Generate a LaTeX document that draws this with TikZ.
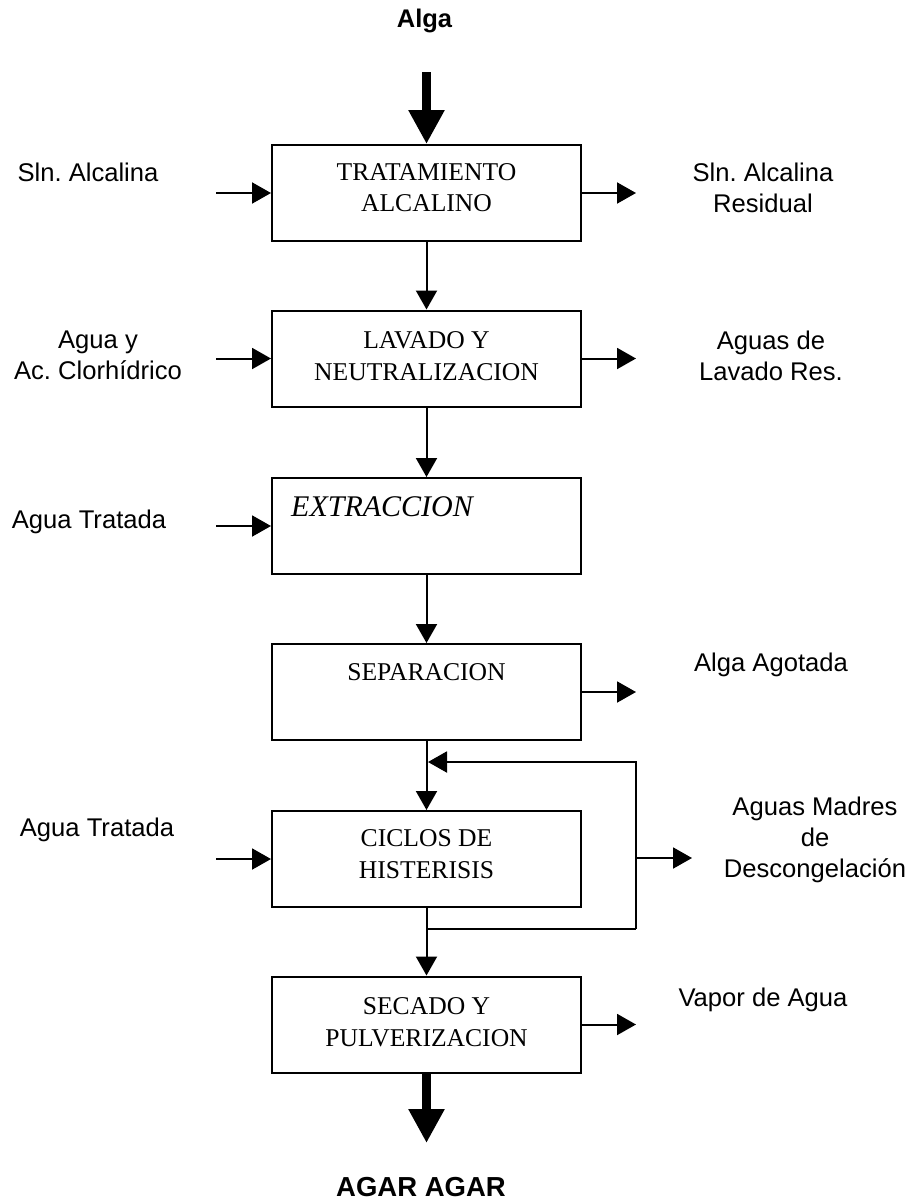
\documentclass[tikz,border=0pt]{standalone}
\usepackage{fontspec}
\setmainfont{Liberation Serif}
\setsansfont{Liberation Sans}
\usetikzlibrary{arrows.meta,calc}
\frenchspacing

\begin{document}
\begin{tikzpicture}[x=1pt,y=-1pt,
  box/.style={draw,line width=2pt,minimum width=309pt,minimum height=96pt,inner sep=0pt},
  boxtext/.style={font=\fontsize{25.6}{31.5}\selectfont,align=center,inner sep=0pt},
  side/.style={font=\sffamily\fontsize{25.6}{31}\selectfont,align=center,inner sep=0pt},
  title/.style={font=\sffamily\bfseries\fontsize{#1}{30}\selectfont,inner sep=0pt},
  flow/.style={line width=2pt,-{Triangle[length=19pt,width=21pt]}},
  bulk/.style={line width=9pt,-{Triangle[length=34pt,width=34pt]}},
  line/.style={line width=2pt},
]
\useasboundingbox[fill=white] (0,0) rectangle (913,1203);

% process blocks
\node[box] (b1) at (426.5,193)   {};
\node[box] (b2) at (426.5,358.5) {};
\node[box] (b3) at (426.5,526)   {};
\node[box] (b4) at (426.5,692)   {};
\node[box] (b5) at (426.5,859)   {};
\node[box] (b6) at (426.5,1024.5) {};

% block captions
\node[boxtext] (t1) at (426.5,187.5) {TRATAMIENTO\\ALCALINO};
\node[boxtext] (t2) at (426.5,356)   {LAVADO Y\\NEUTRALIZACION};
\node[boxtext,font=\itshape\fontsize{30}{34}\selectfont,anchor=west] (t3) at (291,507) {EXTRACCION};
\node[boxtext] (t4) at (426.5,672)   {SEPARACION};
\node[boxtext] (t5) at (426.5,854)   {CICLOS DE\\HISTERISIS};
\node[boxtext] (t6) at (426.5,1022)  {SECADO Y\\PULVERIZACION};

% raw material and product
\node[title=25.5] (alga) at (424.5,21) {Alga};
\node[title=27.5] (agar) at (421,1187) {AGAR AGAR};
\coordinate (algatop) at (426.5,72);
\coordinate (agarend) at (426.5,1143);
\draw[bulk] (algatop) -- (b1.north);
\draw[bulk] (b6.south) -- (agarend);

% main line
\draw[flow] (b1.south) -- (b2.north);
\draw[flow] (b2.south) -- (b3.north);
\draw[flow] (b3.south) -- (b4.north);
\draw[flow] (b4.south) -- (b5.north);
\draw[flow] (b5.south) -- (b6.north);

% recycle loop around the hysteresis cycles
\coordinate (lb) at (636,929);
\coordinate (lt) at (636,762);
\coordinate (lj) at (428,762);
\coordinate (lm) at (636,858);
\draw[line] (b5.south) |- (lb);
\draw[flow] (lb) -- (lt) -- (lj);

% feeds
\node[side] (f1) at (88,172)    {Sln. Alcalina};
\node[side] (f2) at (98,355.5)  {Agua y\\Ac. Clorhídrico};
\node[side] (f3) at (89,522)    {Agua Tratada};
\node[side] (f5) at (97,830)    {Agua Tratada};
\coordinate (i1) at ($(b1.west)+(-55,0)$);
\coordinate (i2) at ($(b2.west)+(-55,0)$);
\coordinate (i3) at ($(b3.west)+(-55,0)$);
\coordinate (i5) at ($(b5.west)+(-55,0)$);
\draw[flow] (i1) -- (b1.west);
\draw[flow] (i2) -- (b2.west);
\draw[flow] (i3) -- (b3.west);
\draw[flow] (i5) -- (b5.west);

% effluents
\node[side] (e1) at (763,187.5) {Sln. Alcalina\\Residual};
\node[side] (e2) at (771,356)   {Aguas de\\Lavado Res.};
\node[side] (e4) at (771,665)   {Alga Agotada};
\node[side] (e5) at (815,840)   {Aguas Madres\\de\\Descongelación};
\node[side] (e6) at (763,1000)  {Vapor de Agua};
\coordinate (o1) at ($(b1.east)+(54,0)$);
\coordinate (o2) at ($(b2.east)+(54,0)$);
\coordinate (o4) at ($(b4.east)+(54,0)$);
\coordinate (o5) at ($(lm)+(56,0)$);
\coordinate (o6) at ($(b6.east)+(54,0)$);
\draw[flow] (b1.east) -- (o1);
\draw[flow] (b2.east) -- (o2);
\draw[flow] (b4.east) -- (o4);
\draw[flow] (lm) -- (o5);
\draw[flow] (b6.east) -- (o6);
\end{tikzpicture}
\end{document}
